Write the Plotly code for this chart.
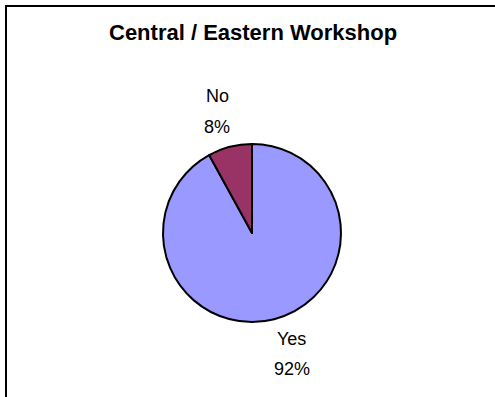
import plotly.graph_objects as go

labels = ["Yes", "No"]
values = [92, 8]
colors = ["#9999FF", "#993366"]
title_text = "Central / Eastern Workshop"

W, H = 495, 397

def px(x):
    return x / W

def py(y):
    return 1 - y / H

fig = go.Figure(go.Pie(
    labels=labels,
    values=values,
    sort=False,
    direction="clockwise",
    rotation=0,
    marker=dict(colors=colors, line=dict(color="black", width=2)),
    textinfo="none",
    hoverinfo="label+percent",
    showlegend=False,
    domain=dict(x=[px(163), px(341)], y=[py(322), py(144)]),
))

total = sum(values)
label_pos = {"No": ((217, 96), (217, 127)), "Yes": ((291, 339), (292, 369))}
annotations = []
for lab, val in zip(labels, values):
    (x1, y1), (x2, y2) = label_pos[lab]
    annotations.append(dict(x=px(x1), y=py(y1), xref="paper", yref="paper",
                            text=lab, showarrow=False, xanchor="center", yanchor="middle",
                            font=dict(family="Liberation Sans, Arial", size=18, color="black")))
    annotations.append(dict(x=px(x2), y=py(y2), xref="paper", yref="paper",
                            text=f"{round(val / total * 100)}%", showarrow=False,
                            xanchor="center", yanchor="middle",
                            font=dict(family="Liberation Sans, Arial", size=18, color="black")))

annotations.append(dict(x=px(253), y=py(33), xref="paper", yref="paper",
                        text=f"<b>{title_text}</b>", showarrow=False,
                        xanchor="center", yanchor="middle",
                        font=dict(family="Liberation Sans, Arial", size=22, color="black")))

fig.update_layout(
    width=W, height=H,
    margin=dict(l=0, r=0, t=0, b=0),
    paper_bgcolor="white",
    plot_bgcolor="white",
    annotations=annotations,
    shapes=[dict(type="rect", xref="paper", yref="paper",
                 x0=px(6), y0=py(6), x1=1.2, y1=-0.2,
                 line=dict(color="black", width=2), fillcolor="rgba(0,0,0,0)")],
)

fig.write_html("out.html", config={"displayModeBar": False},
               post_script="document.body.style.margin='0';")
